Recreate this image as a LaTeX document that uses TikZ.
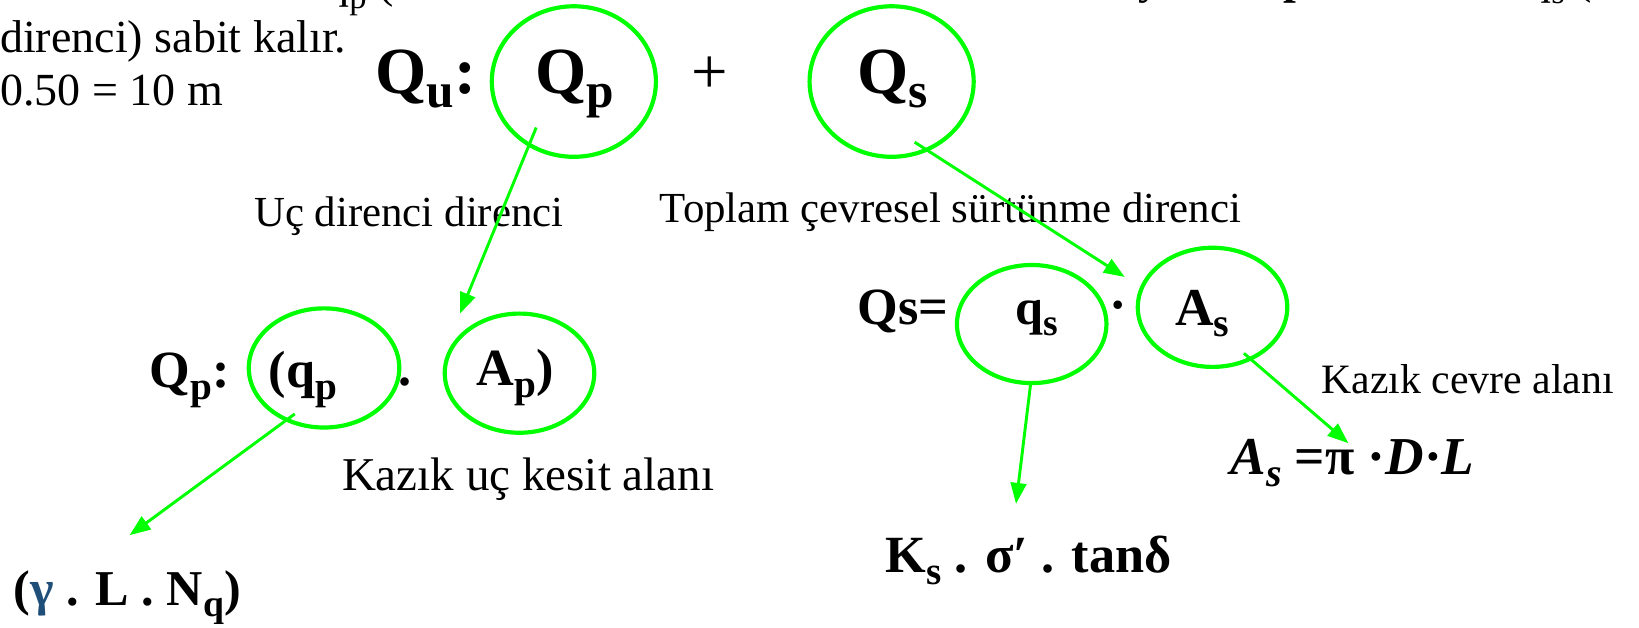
\documentclass[tikz,border=0pt]{standalone}
\usepackage{fontspec}
\setmainfont{Liberation Serif}
\usetikzlibrary{arrows.meta,shapes.geometric}
\definecolor{grn}{RGB}{0,255,0}
\definecolor{gblue}{RGB}{31,78,121}
\newcommand{\fs}[1]{\fontsize{#1}{#1}\selectfont}
\newcommand{\dn}[1]{\raisebox{-0.22em}{\scalebox{0.75}{#1}}}
\begin{document}
\begin{tikzpicture}[x=1pt,y=-1pt,
  ring/.style={draw=grn, line width=4pt, ellipse, inner sep=0pt},
  link/.style={draw=grn, line width=2.8pt, -{Triangle[length=20pt,width=15pt]}},
  txt/.style={inner sep=0pt, anchor=base west},
  plain/.style={txt, font=\fs{44}},
  lab/.style={txt, font=\fs{41}},
  bigf/.style={txt, font=\fs{63}\bfseries},
  midf/.style={txt, font=\fs{50}\bfseries}]
\useasboundingbox (0,0) rectangle (1568,600);
% clipped top line slivers
\node[plain] (s1) at (312,-2) {q\dn{p} (};
\node[plain] (s2) at (1089,-6) {y};
\node[plain] (s3) at (1228,-6) {\bfseries p};
\node[plain] (s4) at (1366,-6) {,};
\node[plain] (s5) at (1462,-6) {q\dn{s} (};
% left text
\node[plain] (t1) at (0,50) {direnci) sabit kalır.};
\node[plain] (t2) at (0,101) {0.50 = 10 m};
% top formula
\node[bigf] (Qu) at (359,89) {Q\dn{u}:};
\node[ring, minimum width=157pt, minimum height=144pt] (eQp) at (549,78) {};
\node[bigf] (Qp) at (512,89) {Q\dn{p}};
\node[txt, font=\fs{62}] (plus) at (661,89) {+};
\node[ring, minimum width=157pt, minimum height=144pt] (eQs) at (853,78) {};
\node[bigf] (Qs) at (820,89) {Q\dn{s}};
% labels
\node[lab] (ucd) at (243,217) {Uç direnci direnci};
\node[lab] (top) at (631,213) {Toplam çevresel sürtünme direnci};
% lower left formula
\node[midf] (Qp2) at (143,371) {Q\dn{p}:};
\node[ring, minimum width=144pt, minimum height=114pt] (eqp) at (310,352) {};
\node[midf] (qp) at (257,371) {(q\dn{p}};
\node[midf] (dot1) at (381,369) {.};
\node[ring, minimum width=143pt, minimum height=114pt] (eAp) at (497,357) {};
\node[midf] (Ap) at (456,369) {A\dn{p})};
\node[txt, font=\fs{45}] (kuk) at (327,469) {Kazık uç kesit alanı};
\node[midf, font=\fs{48}\bfseries] (gam) at (13,579) {(\textcolor{gblue}{γ} . L . N\dn{q})};
% lower right formula
\node[midf] (Qs2) at (820,310) {Qs=};
\node[ring, minimum width=143pt, minimum height=113pt] (eqs) at (987,310) {};
\node[midf, font=\fs{48}\bfseries] (qs) at (971,310) {q\dn{s}};
\node[midf] (dot2) at (1061,309) {·};
\node[ring, minimum width=143pt, minimum height=114pt] (eAs) at (1160,294) {};
\node[midf, font=\fs{51}\bfseries] (As) at (1124,311) {A\dn{s}};
\node[txt, font=\fs{40}] (kca) at (1264,376) {Kazık cevre alanı};
\node[midf, font=\fs{51}\bfseries] (asf) at (1177,454) {\itshape A\dn{s} \upshape=π ·\itshape D\upshape·\itshape L};
\node[midf] (ks) at (847,548) {K\dn{s} . σ′ . tanδ};
% connector end points
\coordinate (a1s) at (513,122);
\coordinate (a1e) at (440,300);
\coordinate (a2s) at (875,136);
\coordinate (a2e) at (1076,265);
\coordinate (a3s) at (282,396);
\coordinate (a3e) at (124,512);
\coordinate (a4s) at (986,367);
\coordinate (a4e) at (972,482);
\coordinate (a5s) at (1190,338);
\coordinate (a5e) at (1290,424);
\draw[link] (a1s) -- (a1e);
\draw[link] (a2s) -- (a2e);
\draw[link] (a3s) -- (a3e);
\draw[link] (a4s) -- (a4e);
\draw[link] (a5s) -- (a5e);
\end{tikzpicture}
\end{document}
